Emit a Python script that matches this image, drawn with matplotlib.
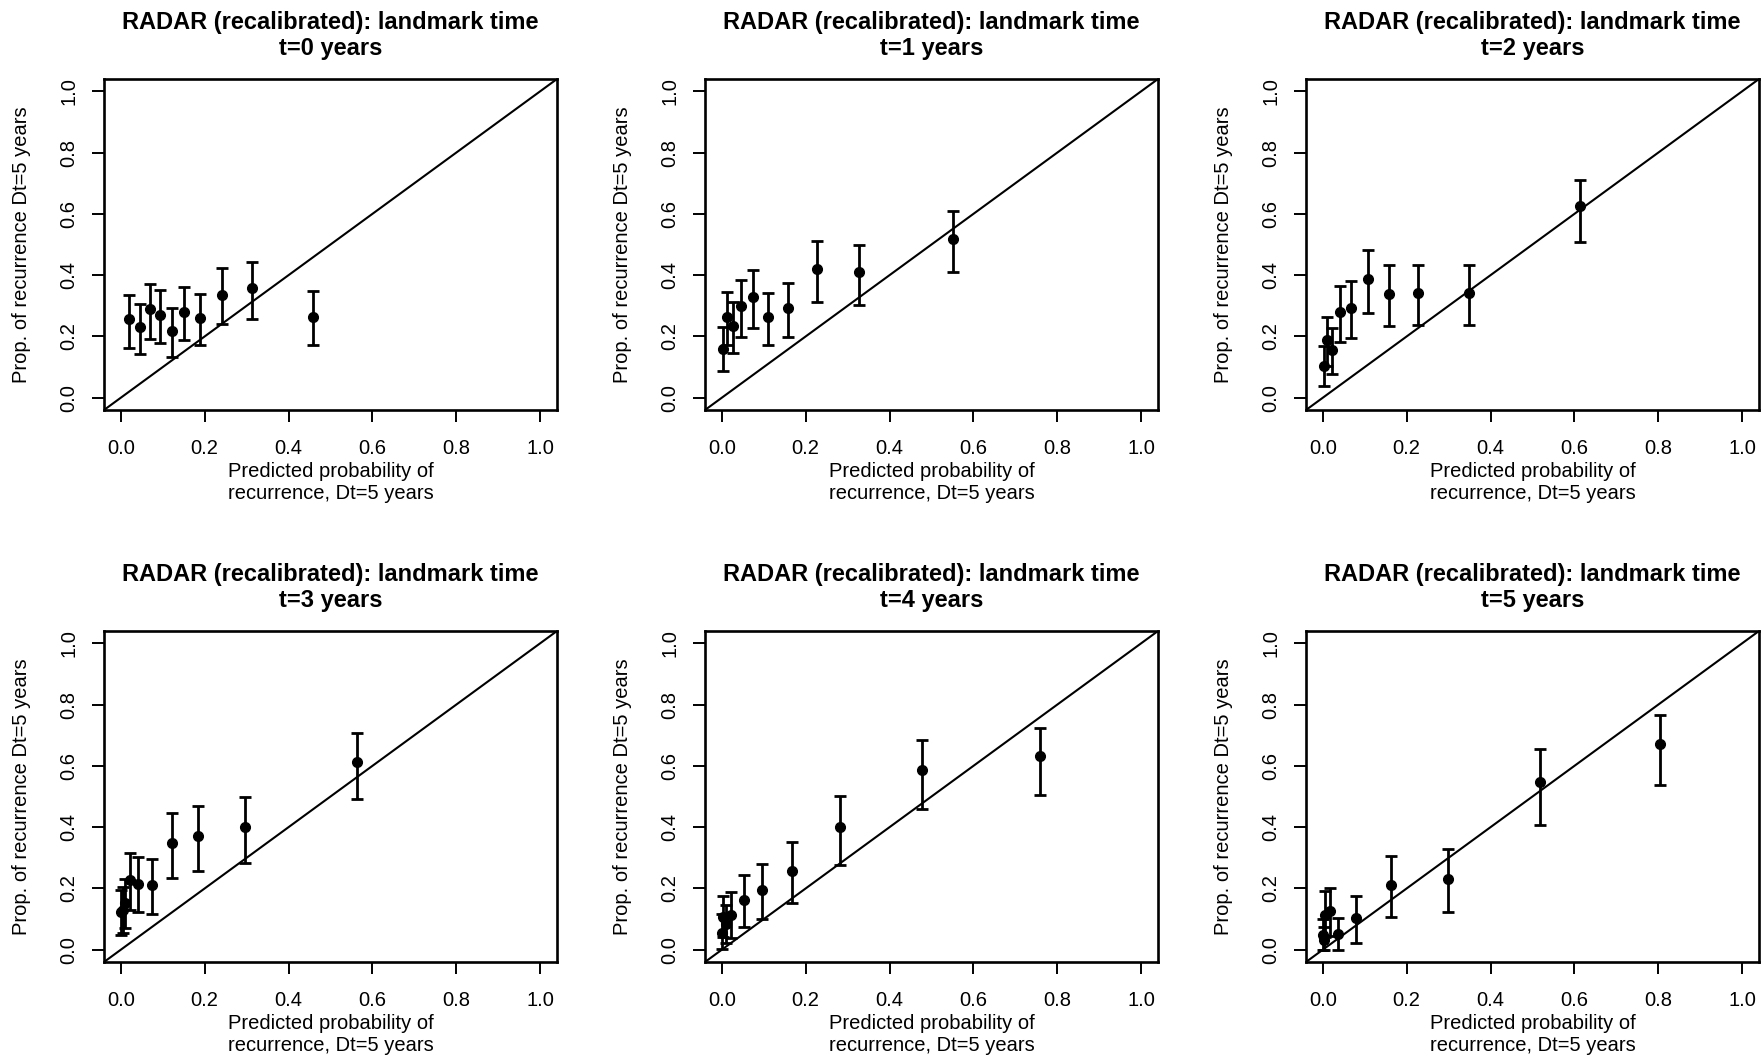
import matplotlib
matplotlib.use("Agg")
import matplotlib.pyplot as plt

plt.rcParams["font.family"] = ["Liberation Sans", "DejaVu Sans"]

# landmark times shown in the six panels
LANDMARKS = [0, 1, 2, 3, 4, 5]

# predicted risk (x), observed proportion (y) and 95% CI per risk group
pred_t0 = [0.020, 0.046, 0.069, 0.093, 0.121, 0.151, 0.189, 0.241, 0.314, 0.459]
obs_t0 = [0.256, 0.230, 0.288, 0.271, 0.217, 0.280, 0.259, 0.336, 0.357, 0.263]
lo_t0 = [0.163, 0.143, 0.193, 0.180, 0.132, 0.187, 0.172, 0.239, 0.257, 0.172]
hi_t0 = [0.336, 0.307, 0.372, 0.353, 0.293, 0.362, 0.338, 0.424, 0.444, 0.347]

pred_t1 = [0.003, 0.012, 0.027, 0.047, 0.074, 0.111, 0.159, 0.226, 0.328, 0.552]
obs_t1 = [0.160, 0.263, 0.234, 0.299, 0.329, 0.262, 0.292, 0.421, 0.409, 0.518]
lo_t1 = [0.086, 0.173, 0.146, 0.199, 0.226, 0.173, 0.197, 0.312, 0.304, 0.411]
hi_t1 = [0.230, 0.346, 0.314, 0.385, 0.417, 0.343, 0.375, 0.513, 0.499, 0.608]

pred_t2 = [0.002, 0.009, 0.022, 0.041, 0.067, 0.108, 0.157, 0.227, 0.348, 0.614]
obs_t2 = [0.103, 0.187, 0.155, 0.279, 0.294, 0.388, 0.340, 0.343, 0.341, 0.625]
lo_t2 = [0.038, 0.103, 0.078, 0.182, 0.195, 0.277, 0.233, 0.237, 0.236, 0.508]
hi_t2 = [0.168, 0.263, 0.227, 0.365, 0.381, 0.483, 0.432, 0.434, 0.432, 0.711]

pred_t3 = [0.001, 0.005, 0.011, 0.022, 0.042, 0.074, 0.122, 0.184, 0.295, 0.564]
obs_t3 = [0.122, 0.130, 0.154, 0.227, 0.214, 0.211, 0.349, 0.370, 0.399, 0.614]
lo_t3 = [0.048, 0.055, 0.070, 0.130, 0.122, 0.117, 0.235, 0.256, 0.284, 0.492]
hi_t3 = [0.194, 0.205, 0.230, 0.315, 0.304, 0.296, 0.445, 0.468, 0.498, 0.707]

pred_t4 = [0.000, 0.003, 0.009, 0.022, 0.052, 0.096, 0.167, 0.281, 0.478, 0.759]
obs_t4 = [0.055, 0.108, 0.084, 0.114, 0.163, 0.195, 0.258, 0.400, 0.587, 0.632]
lo_t4 = [0.004, 0.040, 0.021, 0.038, 0.075, 0.099, 0.151, 0.278, 0.460, 0.504]
hi_t4 = [0.118, 0.176, 0.146, 0.188, 0.244, 0.280, 0.353, 0.502, 0.684, 0.725]

pred_t5 = [0.000, 0.002, 0.006, 0.018, 0.037, 0.080, 0.162, 0.299, 0.518, 0.804]
obs_t5 = [0.048, 0.032, 0.113, 0.127, 0.050, 0.102, 0.211, 0.231, 0.546, 0.671]
lo_t5 = [0.000, 0.000, 0.040, 0.045, 0.000, 0.021, 0.107, 0.122, 0.407, 0.538]
hi_t5 = [0.099, 0.075, 0.192, 0.200, 0.103, 0.175, 0.305, 0.328, 0.655, 0.767]

PANELS = [
    (pred_t0, obs_t0, lo_t0, hi_t0),
    (pred_t1, obs_t1, lo_t1, hi_t1),
    (pred_t2, obs_t2, lo_t2, hi_t2),
    (pred_t3, obs_t3, lo_t3, hi_t3),
    (pred_t4, obs_t4, lo_t4, hi_t4),
    (pred_t5, obs_t5, lo_t5, hi_t5),
]

TICKS = [0.0, 0.2, 0.4, 0.6, 0.8, 1.0]
TICK_LABELS = ["0.0", "0.2", "0.4", "0.6", "0.8", "1.0"]

W, H = 1764, 1057
fig = plt.figure(figsize=(W / 100, H / 100), dpi=100)

# axes boxes in pixels: left edges, top edges, size
col_left = [104, 705, 1306]
row_top = [79, 631]
box_w, box_h = 453, 331

for i, (t, (pred, obs, lo, hi)) in enumerate(zip(LANDMARKS, PANELS)):
    r, c = divmod(i, 3)
    ax = fig.add_axes([col_left[c] / W, 1 - (row_top[r] + box_h) / H, box_w / W, box_h / H])
    ax.set_xlim(-0.04, 1.04)
    ax.set_ylim(-0.04, 1.04)
    ax.axline((0, 0), slope=1, color="black", lw=1.5)
    yerr = [[o - l for o, l in zip(obs, lo)], [h - o for o, h in zip(obs, hi)]]
    ax.errorbar(pred, obs, yerr=yerr, fmt="o", color="black", ms=7,
                elinewidth=2.0, capsize=4.2, capthick=2.0)
    for s in ax.spines.values():
        s.set_linewidth(1.9)
    ax.set_xticks(TICKS, TICK_LABELS)
    ax.set_yticks(TICKS, TICK_LABELS)
    ax.tick_params(direction="out", length=8.6, width=1.4, labelsize=14.5)
    ax.tick_params(axis="x", pad=12.5)
    ax.tick_params(axis="y", pad=10)
    for lab in ax.get_yticklabels():
        lab.set_rotation(90)
        lab.set_verticalalignment("center")
    ax.set_xlabel("Predicted probability of\nrecurrence, Dt=5 years", fontsize=14.5,
                  labelpad=2.5, linespacing=1.2)
    ax.set_ylabel("Prop. of recurrence Dt=5 years", fontsize=14.5, labelpad=20)
    ax.set_title(f"RADAR (recalibrated): landmark time\nt={t} years",
                 fontsize=17, fontweight="bold", pad=17, linespacing=1.2)

fig.savefig("out.png", dpi=100)
